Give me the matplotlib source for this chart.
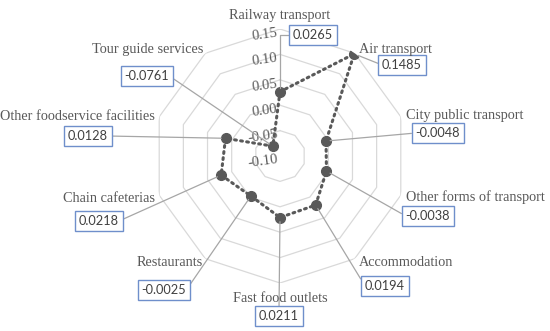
import numpy as np
import matplotlib
matplotlib.use("Agg")
import matplotlib.pyplot as plt

categories = ["Railway transport", "Air transport", "City public transport",
              "Other forms of transport", "Accommodation", "Fast food outlets",
              "Restaurants", "Chain cafeterias", "Other foodservice facilities",
              "Tour guide services"]
values = [0.0265, 0.1485, -0.0048, -0.0038, 0.0194, 0.0211,
          -0.0025, 0.0218, 0.0128, -0.0761]
value_labels = ["0.0265", "0.1485", "-0.0048", "-0.0038", "0.0194", "0.0211",
                "-0.0025", "0.0218", "0.0128", "-0.0761"]
rticks = [-0.10, -0.05, 0.00, 0.05, 0.10, 0.15]
rtick_labels = ["-0.10", "-0.05", "0.00", "0.05", "0.10", "0.15"]

W, H = 550, 331
fig = plt.figure(figsize=(5.5, 3.31), dpi=100)
cx, cy, R = 280, 156, 127
ax = fig.add_axes([(cx - R) / W, 1 - (cy + R) / H, 2 * R / W, 2 * R / H],
                  projection="polar")
ax.set_theta_zero_location("N")
ax.set_theta_direction(-1)
ax.set_ylim(rticks[0], rticks[-1])
ax.grid(False)
ax.set_xticks([])
ax.set_yticks([])
ax.spines["polar"].set_visible(False)
ax.patch.set_alpha(0)

n = len(categories)
angles = np.linspace(0, 2 * np.pi, n, endpoint=False)
closed_angles = np.concatenate([angles, angles[:1]])

gray_grid = "#D9D9D9"
text_gray = "#595959"
for lv in rticks[1:]:
    ax.plot(closed_angles, [lv] * (n + 1), color=gray_grid, lw=0.9, zorder=1)

# radial tick labels
for lv, lab in zip(rticks, rtick_labels):
    ax.annotate(lab, xy=(0, lv), xytext=(-1, -4), textcoords="offset points",
                ha="right", va="center", fontsize=10.5, color=text_gray,
                family="Liberation Serif", rotation=8, zorder=3)

vals_closed = values + values[:1]
ax.plot(closed_angles, vals_closed, color="#595959", lw=2.2,
        linestyle=(0, (0.6, 1.4)), dash_capstyle="round", zorder=4)
ax.plot(angles, values, "o", color="#595959", ms=7, zorder=5)

# category label layout (figure pixels, from top-left)
cat_pos = [(280, 15, "center"), (359, 50, "left"), (406, 116, "left"),
           (406, 197, "left"), (359, 263, "left"), (280, 298, "center"),
           (203, 263, "right"), (155, 198, "right"), (155, 116, "right"),
           (203, 49, "right")]
for name, (x, y, ha) in zip(categories, cat_pos):
    fig.text(x / W, 1 - y / H, name, ha=ha, va="center", fontsize=10.3,
             color=text_gray, family="Liberation Serif")

# value label boxes layout (figure pixels, from top-left) and leader anchor
box_pos = [(313, 35, (0, 0.5)), (402, 65, (0, 0.5)), (438, 133, (0, 0.5)),
           (428, 216, (0, 0.5)), (385, 286, (0, 0.5)), (279, 316, (0.5, 1)),
           (164, 290, (1, 0.5)), (99, 221, (1, 0.5)), (88, 136, (1, 0.5)),
           (147, 76, (1, 0.5))]
for i, (lab, (x, y, rp)) in enumerate(zip(value_labels, box_pos)):
    conn = "angle,angleA=0,angleB=90,rad=0" if i == 0 else "arc3"
    ax.annotate(lab, xy=(angles[i], values[i]), xycoords="data",
                xytext=(x / W, 1 - y / H), textcoords="figure fraction",
                ha="center", va="center", fontsize=9.2, color="#404040",
                family="Lato",
                bbox=dict(boxstyle="square,pad=0.3", fc="white",
                          ec="#6F8FCB", lw=1.0),
                arrowprops=dict(arrowstyle="-", color="#A6A6A6", lw=0.9,
                                relpos=rp, shrinkA=0, shrinkB=3,
                                connectionstyle=conn),
                zorder=6, annotation_clip=False)

fig.savefig("out.png", dpi=100)
